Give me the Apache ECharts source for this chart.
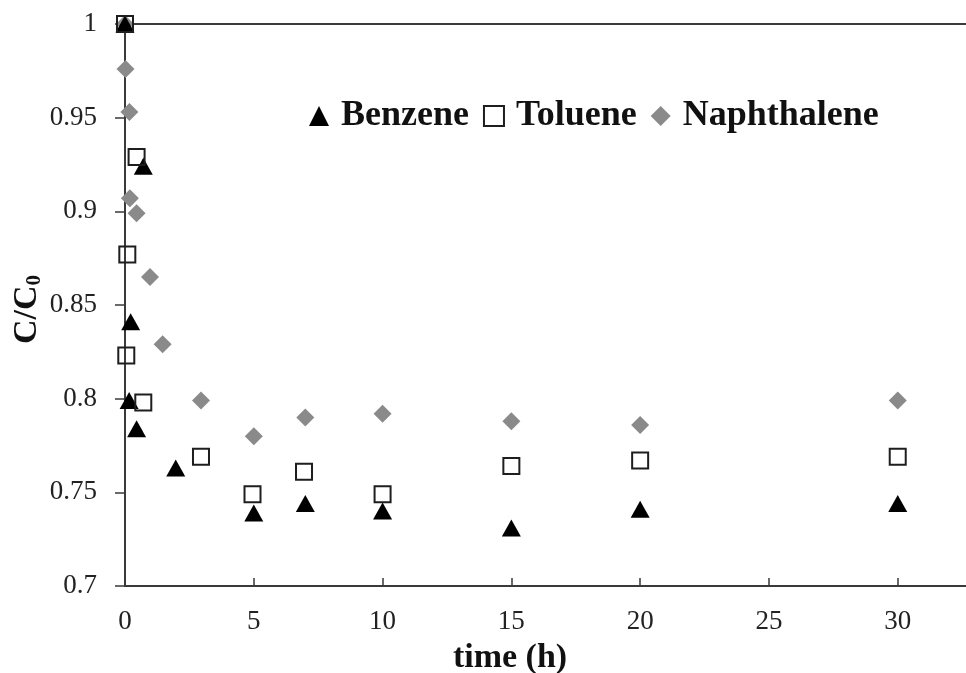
<!DOCTYPE html>
<html>
<head>
<meta charset="utf-8">
<script src="https://cdn.jsdelivr.net/npm/echarts@6/dist/echarts.min.js"></script>
<style>
  html, body { margin: 0; padding: 0; background: #fff; overflow: hidden; }
  #chart { width: 966px; height: 673px; }
</style>
</head>
<body>
<div id="chart"></div>
<script>
// Relative concentration C/C0 over time (h) for three aromatic compounds
const seriesNames = ['Benzene', 'Toluene', 'Naphthalene'];

const benzeneTime = [0, 0.16, 0.22, 0.45, 0.71, 1.97, 5, 7, 10, 15, 20, 30];
const benzeneCC0  = [1.0, 0.799, 0.841, 0.784, 0.924, 0.763, 0.739, 0.744, 0.740, 0.731, 0.741, 0.744];

const tolueneTime = [0, 0.05, 0.09, 0.45, 0.71, 2.95, 4.95, 6.95, 10, 15, 20, 30];
const tolueneCC0  = [1.0, 0.823, 0.877, 0.929, 0.798, 0.769, 0.749, 0.761, 0.749, 0.764, 0.767, 0.769];

const naphTime = [0, 0.02, 0.17, 0.19, 0.45, 0.97, 1.46, 2.95, 5, 7, 10, 15, 20, 30];
const naphCC0  = [1.0, 0.976, 0.953, 0.907, 0.899, 0.865, 0.829, 0.799, 0.780, 0.790, 0.792, 0.788, 0.786, 0.799];

const xTicks = [0, 5, 10, 15, 20, 25, 30];
const yTicks = [0.7, 0.75, 0.8, 0.85, 0.9, 0.95, 1];

const pairs = (xs, ys) => xs.map((x, i) => [x, ys[i]]);

const serif = '"Liberation Serif", "Times New Roman", serif';
const axisCol = '#3a3a3a';

const chart = echarts.init(document.getElementById('chart'));
chart.setOption({
  backgroundColor: '#fff',
  animation: false,
  grid: {
    left: 125, width: 850, top: 24, bottom: 87,
    outerBoundsMode: 'none', containLabel: false,
    show: true, borderColor: axisCol, borderWidth: 2, backgroundColor: 'transparent'
  },
  legend: {
    data: seriesNames,
    left: 304, top: 93,
    itemWidth: 20, itemHeight: 20, itemGap: 14,
    textStyle: { fontFamily: serif, fontWeight: 'bold', fontSize: 36, color: '#111', padding: [0, 0, 0, 7] }
  },
  xAxis: {
    type: 'value', min: 0, max: 33, interval: 5,
    axisLine: { show: true, lineStyle: { color: axisCol, width: 2 } },
    axisTick: { show: true, inside: true, length: 8, customValues: xTicks, lineStyle: { color: axisCol, width: 1.5 } },
    axisLabel: { customValues: xTicks, fontFamily: serif, fontSize: 27, color: '#222', margin: 22 },
    splitLine: { show: false }
  },
  yAxis: {
    type: 'value', min: 0.7, max: 1, interval: 0.05,
    axisLine: { show: true, lineStyle: { color: axisCol, width: 2 } },
    axisTick: { show: true, inside: false, length: 10, customValues: yTicks, lineStyle: { color: axisCol, width: 1.5 } },
    axisLabel: { customValues: yTicks, fontFamily: serif, fontSize: 27, color: '#222', margin: 28 },
    splitLine: { show: false }
  },
  graphic: [
    {
      type: 'text', x: 510, y: 658,
      style: { text: 'time (h)', font: 'bold 34px ' + serif, fill: '#111', align: 'center', verticalAlign: 'middle' }
    },
    {
      type: 'text', x: 10, y: 344, rotation: Math.PI / 2,
      style: {
        text: '{m|C/C}{s|0}',
        rich: {
          m: { font: 'bold 34px ' + serif, fill: '#111' },
          s: { font: 'bold 21px ' + serif, fill: '#111', verticalAlign: 'bottom', padding: [14, 0, 0, 0] }
        }
      }
    }
  ],
  series: [
    {
      name: 'Benzene', type: 'scatter', symbol: 'triangle', symbolSize: [19, 17], z: 3,
      itemStyle: { color: '#000', opacity: 1 },
      data: pairs(benzeneTime, benzeneCC0)
    },
    {
      name: 'Toluene', type: 'scatter', symbol: 'rect', symbolSize: 16, z: 4,
      itemStyle: { color: 'rgba(255,255,255,0)', borderColor: '#1e1e1e', borderWidth: 2, opacity: 1 },
      data: pairs(tolueneTime, tolueneCC0)
    },
    {
      name: 'Naphthalene', type: 'scatter', symbol: 'diamond', symbolSize: 18, z: 2,
      itemStyle: { color: '#8a8a8a', opacity: 1 },
      data: pairs(naphTime, naphCC0)
    }
  ]
});
</script>
</body>
</html>
